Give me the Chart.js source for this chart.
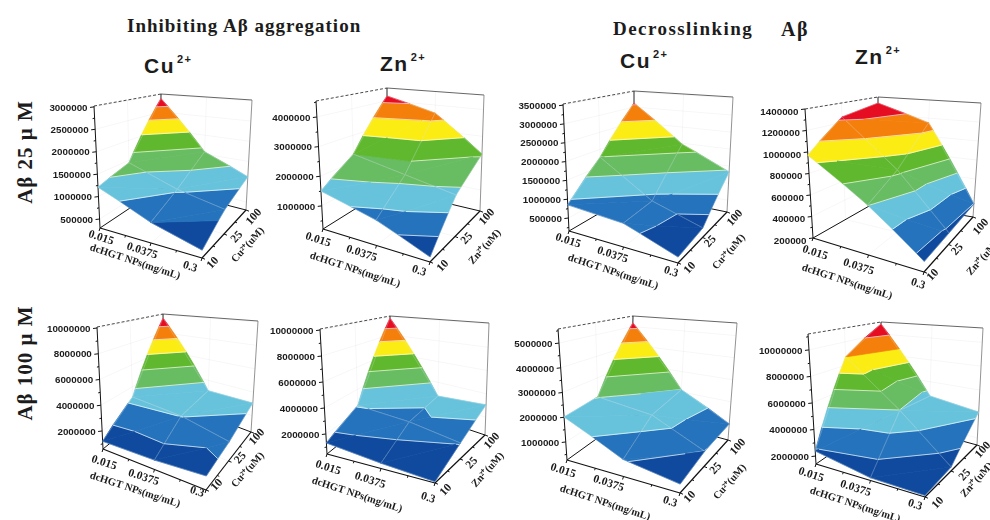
<!DOCTYPE html>
<html>
<head>
<meta charset="utf-8">
<script src="https://cdn.jsdelivr.net/npm/chart.js@4"></script>
<style>
    html, body { margin: 0; padding: 0; background: #fff; overflow: hidden; }
    #page { position: relative; width: 990px; height: 520px; }
    canvas { position: absolute; }
    .txt { position: absolute; white-space: nowrap; color: #1c1c1c; }
    .main { font: bold 19px 'Liberation Serif'; letter-spacing: 1px; }
    .head { font: bold 21px 'Liberation Sans'; letter-spacing: 1.5px; }
    .head sup { font-size: 11px; line-height: 0; vertical-align: 10px; margin-left: 2px; }
    .row { font: bold 21px 'Liberation Serif'; letter-spacing: 1px; transform: translate(-50%, -50%) rotate(-90deg); }
</style>
</head>
<body>
<div id="page">
    <div class="txt main" style="left:127px;top:15px">Inhibiting Aβ aggregation</div>
    <div class="txt main" style="left:613px;top:18px;letter-spacing:1.45px">Decrosslinking</div>
    <div class="txt main" style="left:781px;top:18px;letter-spacing:1.45px;font-size:20px">Aβ</div>
    <div class="txt head" style="left:144px;top:54px">Cu<sup>2+</sup></div>
    <div class="txt head" style="left:380px;top:52px">Zn<sup>2+</sup></div>
    <div class="txt head" style="left:620px;top:49px">Cu<sup>2+</sup></div>
    <div class="txt head" style="left:855px;top:45px">Zn<sup>2+</sup></div>
    <div class="txt row" style="left:25px;top:152px">Aβ 25 μ M</div>
    <div class="txt row" style="left:25px;top:363px">Aβ 100 μ M</div>
</div>
<script>
// axis labels
var doseLabels = ['0.015', '0.0375', '0.3'];
var concLabels = ['10', '25', '100'];

// value ticks
var ticksA = [500000, 1000000, 1500000, 2000000, 2500000, 3000000];
var ticksB = [1000000, 2000000, 3000000, 4000000];
var ticksC = [500000, 1000000, 1500000, 2000000, 2500000, 3000000, 3500000];
var ticksD = [200000, 400000, 600000, 800000, 1000000, 1200000, 1400000];
var ticksE = [2000000, 4000000, 6000000, 8000000, 10000000];
var ticksF = [2000000, 4000000, 6000000, 8000000, 10000000];
var ticksG = [1000000, 2000000, 3000000, 4000000, 5000000];
var ticksH = [2000000, 4000000, 6000000, 8000000, 10000000];

// surface values, one row per dose, one column per metal concentration
var surfaceA = [[1210000, 1440000, 2890000], [740000, 1050000, 1560000], [460000, 850000, 1120000]];
var surfaceB = [[1500000, 2290000, 4200000], [1040000, 1930000, 3680000], [375000, 1620000, 2340000]];
var surfaceC = [[850000, 1770000, 3130000], [760000, 820000, 1970000], [300000, 410000, 1330000]];
var surfaceD = [[970000, 1256000, 1330000], [644000, 810000, 1148000], [290000, 308000, 337000]];
var surfaceE = [[1200000, 3070000, 9630000], [1300000, 2830000, 3000000], [1600000, 2100000, 3070000]];
var surfaceF = [[1310000, 2550000, 9860000], [850000, 2290000, 2680000], [550000, 1700000, 3050000]];
var surfaceG = [[2010000, 2130000, 5200000], [930000, 1860000, 2110000], [600000, 890000, 1000000]];
var surfaceH = [[2380000, 8700000, 11000000], [1600000, 5100000, 4700000], [1500000, 1700000, 4160000]];

// contour levels between the eight colour bands
var levelsA = [740000, 1020000, 1300000, 1650000, 2030000, 2360000, 2680000];
var levelsB = [770000, 1250000, 1750000, 2290000, 2860000, 3440000, 3960000];
var levelsC = [620000, 950000, 1370000, 1780000, 2170000, 2630000, 3080000];
var levelsD = [340000, 490000, 640000, 780000, 920000, 1070000, 1230000];
var levelsE = [1850000, 2800000, 3680000, 5080000, 6340000, 7590000, 8790000];
var levelsF = [1650000, 2500000, 3780000, 5100000, 6360000, 7620000, 8820000];
var levelsG = [900000, 1500000, 2120000, 2880000, 3580000, 4280000, 4920000];
var levelsH = [2500000, 3850000, 5120000, 6350000, 7500000, 8700000, 9950000];

var bandColors = ['#0f4a9e', '#2573bc', '#67c3db', '#68bc62', '#5fb82e', '#fbec14', '#f47f0b', '#e60c22'];

// Layout of each small plot: box of its canvas, corners of the 3D cube in page pixels
// L,F,R,B = floor left/front/right/back, TL,TF,TR,TB = same corners at the top of the cube
// doseOff/concOff = offsets of the tilted tick labels from their axis position
var panels = [
    {box: [45, 80, 223, 220], surface: surfaceA, levels: levelsA, ticks: ticksA, zLo: 300000, zHi: 3020000, metal: 'Cu', labelDy: 1,
        L: [100, 228], F: [202, 258], R: [246, 210], B: [160, 188], TL: [94, 106], TF: [205, 125], TR: [252, 100], TB: [161, 94],
        doseOff: [[1, 10], [-9, 8], [-12, 9]], concOff: [[11, 5], [13, 3], [8, 7]],
        doseTitle: [135, 262], concTitle: [248, 245]},
    {box: [268, 80, 240, 220], surface: surfaceB, levels: levelsB, ticks: ticksB, zLo: 220000, zHi: 4540000, metal: 'Zn', labelDy: 1,
        L: [323, 229], F: [430, 262], R: [480, 211], B: [387, 189], TL: [316, 101], TF: [433, 122], TR: [484, 95], TB: [387, 88],
        doseOff: [[-5, 11], [-15, 8], [-11, 9]], concOff: [[13, 4], [12, 2], [7, 6]],
        doseTitle: [355, 270], concTitle: [485, 247]},
    {box: [508, 80, 242, 220], surface: surfaceC, levels: levelsC, ticks: ticksC, zLo: 155000, zHi: 3530000, metal: 'Cu', labelDy: 1,
        L: [569, 231], F: [678, 263], R: [727, 212], B: [634, 193], TL: [563, 104], TF: [681, 125], TR: [733, 97], TB: [634, 91],
        doseOff: [[-1, 10], [-11, 8], [-7, 9]], concOff: [[12, 5], [8, 4], [8, 6]],
        doseTitle: [613, 272], concTitle: [729, 252]},
    {box: [750, 80, 240, 220], surface: surfaceD, levels: levelsD, ticks: ticksD, zLo: 200000, zHi: 1400000, metal: 'Zn', labelDy: 3,
        L: [813, 238], F: [924, 272], R: [973, 217], B: [878, 201], TL: [805, 109], TF: [927, 131], TR: [981, 103], TB: [878, 97],
        doseOff: [[2, 15], [-10, 12], [-6, 12]], concOff: [[9, 3], [9, 5], [8, 10]],
        doseTitle: [847, 282], concTitle: [983, 258]},
    {box: [45, 300, 223, 220], surface: surfaceE, levels: levelsE, ticks: ticksE, zLo: 600000, zHi: 10080000, metal: 'Cu', labelDy: 1,
        L: [103, 449], F: [206, 490], R: [251, 432], B: [164, 399], TL: [97, 327], TF: [209, 357], TR: [258, 321], TB: [163, 314],
        doseOff: [[1, 14], [-11, 8], [-9, 2]], concOff: [[11, -5], [12, -3], [6, 5]],
        doseTitle: [135, 490], concTitle: [248, 470]},
    {box: [268, 300, 240, 220], surface: surfaceF, levels: levelsF, ticks: ticksF, zLo: 460000, zHi: 10080000, metal: 'Zn', labelDy: 1,
        L: [327, 454], F: [435, 483], R: [485, 435], B: [390, 403], TL: [320, 329], TF: [438, 347], TR: [489, 323], TB: [390, 316],
        doseOff: [[1, 14], [-11, 12], [-7, 15]], concOff: [[11, 7], [12, 4], [7, 6]],
        doseTitle: [357, 495], concTitle: [488, 470]},
    {box: [508, 300, 242, 220], surface: surfaceG, levels: levelsG, ticks: ticksG, zLo: 270000, zHi: 5570000, metal: 'Cu', labelDy: 1,
        L: [567, 460], F: [680, 493], R: [728, 440], B: [631, 414], TL: [558, 329], TF: [683, 350], TR: [737, 323], TB: [633, 316],
        doseOff: [[-4, 11], [-15, 7], [-10, 9]], concOff: [[10, 4], [12, 2], [10, 7]],
        doseTitle: [605, 503], concTitle: [730, 482]},
    {box: [750, 300, 240, 220], surface: surfaceH, levels: levelsH, ticks: ticksH, zLo: 1400000, zHi: 11200000, metal: 'Zn', labelDy: 1,
        L: [816, 464], F: [925, 497], R: [977, 445], B: [881, 419], TL: [808, 334], TF: [928, 355], TR: [983, 328], TB: [881, 322],
        doseOff: [[-5, 11], [-15, 8], [-10, 8]], concOff: [[13, 6], [14, 4], [6, 5]],
        doseTitle: [855, 505], concTitle: [977, 480]}
];

function lerp(a, b, t) {
    return a + (b - a) * t;
}

function bilinear(c00, c10, c11, c01, u, v, k) {
    return lerp(lerp(c00[k], c10[k], u), lerp(c01[k], c11[k], u), v);
}

// u: dose 0..1, v: concentration 0..1, z: value => page pixel
function project(p, u, v, z) {
    var w = (z - p.zLo) / (p.zHi - p.zLo);
    return [
        lerp(bilinear(p.L, p.F, p.R, p.B, u, v, 0), bilinear(p.TL, p.TF, p.TR, p.TB, u, v, 0), w),
        lerp(bilinear(p.L, p.F, p.R, p.B, u, v, 1), bilinear(p.TL, p.TF, p.TR, p.TB, u, v, 1), w)
    ];
}

// the y scale of each chart is the value axis itself, the rest of the cube leans on it
function valueAtPixelY(p, py) {
    return p.zLo + (p.L[1] - py) / (p.L[1] - p.TL[1]) * (p.zHi - p.zLo);
}

function toPoint(p, v3) {
    var xy = project(p, v3.u, v3.v, v3.z);
    return {x: xy[0], y: valueAtPixelY(p, xy[1])};
}

// keep the part of a polygon where z is on the wanted side of a level
function clipZ(poly, level, keepAbove) {
    var out = [];
    for (var i = 0; i < poly.length; i++) {
        var a = poly[i];
        var b = poly[(i + 1) % poly.length];
        var aIn = keepAbove ? a.z >= level : a.z <= level;
        var bIn = keepAbove ? b.z >= level : b.z <= level;
        if (aIn) out.push(a);
        if (aIn !== bIn) {
            var t = (level - a.z) / (b.z - a.z);
            out.push({u: lerp(a.u, b.u, t), v: lerp(a.v, b.v, t), z: level});
        }
    }
    return out;
}

function lineDataset(points, color, width, dash) {
    return {data: points, showLine: true, fill: false, borderColor: color, borderWidth: width, borderDash: dash || [],
        pointRadius: 0, clip: false};
}

function buildDatasets(p) {
    var list = [];
    var gridVal = function (i, j) {
        return {u: i / 2, v: j / 2, z: p.surface[i][j]};
    };

    // cells from back to front so nearer ones paint over farther ones
    var cells = [[0, 1], [0, 0], [1, 1], [1, 0]];
    cells.forEach(function (c) {
        var a = gridVal(c[0], c[1]);
        var b = gridVal(c[0] + 1, c[1]);
        var d = gridVal(c[0] + 1, c[1] + 1);
        var e = gridVal(c[0], c[1] + 1);
        // each cell is split along its left-right diagonal, back half first
        var tris = [[a, e, d], [a, d, b]];

        tris.forEach(function (tri) {
            var edges = [];
            for (var k = 0; k < bandColors.length; k++) {
                var poly = tri;
                if (k > 0) poly = clipZ(poly, p.levels[k - 1], true);
                if (poly.length && k < p.levels.length) poly = clipZ(poly, p.levels[k], false);
                if (poly.length > 2) {
                    var pts = poly.map(function (q) { return toPoint(p, q); });
                    pts.push(pts[0]);
                    list.push({data: pts, showLine: true, fill: 'shape', backgroundColor: bandColors[k],
                        borderColor: bandColors[k], borderWidth: 0.7, pointRadius: 0, clip: false});
                }
                if (k < p.levels.length) {
                    var hit = [];
                    for (var m = 0; m < 3; m++) {
                        var q0 = tri[m], q1 = tri[(m + 1) % 3];
                        if ((q0.z - p.levels[k]) * (q1.z - p.levels[k]) < 0) {
                            var t = (p.levels[k] - q0.z) / (q1.z - q0.z);
                            hit.push({u: lerp(q0.u, q1.u, t), v: lerp(q0.v, q1.v, t), z: p.levels[k]});
                        }
                    }
                    if (hit.length === 2) edges.push(hit);
                }
            }
            edges.forEach(function (hit) {
                list.push(lineDataset(hit.map(function (q) { return toPoint(p, q); }), 'rgba(255,255,255,0.85)', 0.8));
            });
        });

        // mesh lines of this cell
        [[a, b], [b, d], [d, e], [e, a]].forEach(function (seg) {
            list.push(lineDataset(seg.map(function (q) { return toPoint(p, q); }), 'rgba(215,225,235,0.4)', 0.7));
        });
    });

    // chart.js paints the first dataset last
    return list.reverse();
}

function makeChart(p) {
    var canvas = document.createElement('canvas');
    canvas.width = p.box[2];
    canvas.height = p.box[3];
    canvas.style.left = p.box[0] + 'px';
    canvas.style.top = p.box[1] + 'px';
    document.getElementById('page').appendChild(canvas);

    var cubePlugin = {
        id: 'cube',
        beforeDatasetsDraw: function (chart) {
            var ctx = chart.ctx;
            var dx = -p.box[0], dy = -p.box[1];
            var seg = function (a, b, color, width, dash) {
                ctx.beginPath();
                ctx.setLineDash(dash || []);
                ctx.strokeStyle = color;
                ctx.lineWidth = width;
                ctx.moveTo(a[0] + dx, a[1] + dy);
                ctx.lineTo(b[0] + dx, b[1] + dy);
                ctx.stroke();
                ctx.setLineDash([]);
            };
            ctx.save();

            // faint grid on the two back walls and the floor
            var faint = 'rgba(0,0,0,0.05)';
            p.ticks.forEach(function (t) {
                seg(project(p, 0, 0, t), project(p, 0, 1, t), faint, 0.7);
                seg(project(p, 0, 1, t), project(p, 1, 1, t), faint, 0.7);
            });
            [0.5].forEach(function (s) {
                seg(project(p, 0, s, p.zLo), project(p, 0, s, p.zHi), faint, 0.7);
                seg(project(p, s, 1, p.zLo), project(p, s, 1, p.zHi), faint, 0.7);
                seg(project(p, s, 0, p.zLo), project(p, s, 1, p.zLo), faint, 0.7);
                seg(project(p, 0, s, p.zLo), project(p, 1, s, p.zLo), faint, 0.7);
            });

            // cube edges
            seg(p.TL, p.TB, '#333', 0.9, [3, 2]);
            seg(p.TB, p.TR, '#555', 0.9);
            seg(p.TR, p.R, '#777', 0.8);
            seg(p.TB, p.B, '#222', 1);
            seg(p.L, p.TL, '#111', 1);
            seg(p.L, p.B, '#111', 1);
            seg(p.B, p.R, '#111', 1);
            seg(p.L, p.F, '#111', 1.2);
            seg(p.F, p.R, '#111', 1.2);

            // ticks on the two floor axes
            [0, 0.25, 0.5, 0.75, 1].forEach(function (s, i) {
                var len = i % 2 ? 2 : 3;
                var a = project(p, s, 0, p.zLo);
                seg(a, [a[0] - len * 0.3, a[1] + len], '#111', 1);
                var b = project(p, 1, s, p.zLo);
                seg(b, [b[0] + len, b[1] + len * 0.4], '#111', 1);
            });
            ctx.restore();
        },
        afterDatasetsDraw: function (chart) {
            var ctx = chart.ctx;
            var ys = chart.scales.y;
            var dx = -p.box[0], dy = -p.box[1];
            var label = function (text, x, y, angle, font) {
                ctx.save();
                ctx.translate(x + dx, y + dy);
                ctx.rotate(angle * Math.PI / 180);
                ctx.font = font;
                ctx.fillStyle = '#1c1c1c';
                ctx.textAlign = 'center';
                ctx.textBaseline = 'middle';
                ctx.fillText(text, 0, 0);
                ctx.restore();
            };

            // value axis: positions come from the y scale, x follows the leaning axis line
            ctx.save();
            ctx.strokeStyle = '#111';
            ctx.lineWidth = 1;
            ctx.font = 'bold 9.8px "Liberation Sans"';
            ctx.fillStyle = '#1c1c1c';
            ctx.textAlign = 'right';
            ctx.textBaseline = 'middle';
            var step = (p.ticks[1] - p.ticks[0]) / 2;
            var first = p.ticks[0];
            while (first - step > p.zLo) first -= step;
            for (var t = first; t <= p.zHi; t += step) {
                var y = ys.getPixelForValue(t);
                var x = project(p, 0, 0, t)[0] + dx;
                var major = p.ticks.indexOf(t) >= 0;
                ctx.beginPath();
                ctx.moveTo(x, y);
                ctx.lineTo(x - (major ? 4 : 2), y + 0.5);
                ctx.stroke();
                if (major) ctx.fillText(String(t), x - 6.5, y + p.labelDy);
            }
            ctx.restore();

            var tickFont = 'bold 11.5px "Liberation Serif"';
            doseLabels.forEach(function (text, i) {
                var a = project(p, i / 2, 0, p.zLo);
                label(text, a[0] + p.doseOff[i][0], a[1] + p.doseOff[i][1], 18, tickFont);
            });
            concLabels.forEach(function (text, i) {
                var a = project(p, 1, i / 2, p.zLo);
                label(text, a[0] + p.concOff[i][0], a[1] + p.concOff[i][1], -48, tickFont);
            });
            label('dcHGT NPs(mg/mL)', p.doseTitle[0], p.doseTitle[1], 18, 'bold 10.5px "Liberation Serif"');
            label(p.metal + '²⁺(uM)', p.concTitle[0], p.concTitle[1], -48, 'bold 10.5px "Liberation Serif"');
        }
    };

    return new Chart(canvas, {
        type: 'scatter',
        data: {datasets: buildDatasets(p)},
        plugins: [cubePlugin],
        options: {
            responsive: false,
            animation: false,
            events: [],
            layout: {padding: 0},
            plugins: {legend: {display: false}, tooltip: {enabled: false}},
            scales: {
                x: {type: 'linear', display: false, min: p.box[0], max: p.box[0] + p.box[2]},
                y: {type: 'linear', display: false,
                    min: valueAtPixelY(p, p.box[1] + p.box[3]), max: valueAtPixelY(p, p.box[1])}
            }
        }
    });
}

panels.forEach(makeChart);
</script>
</body>
</html>
